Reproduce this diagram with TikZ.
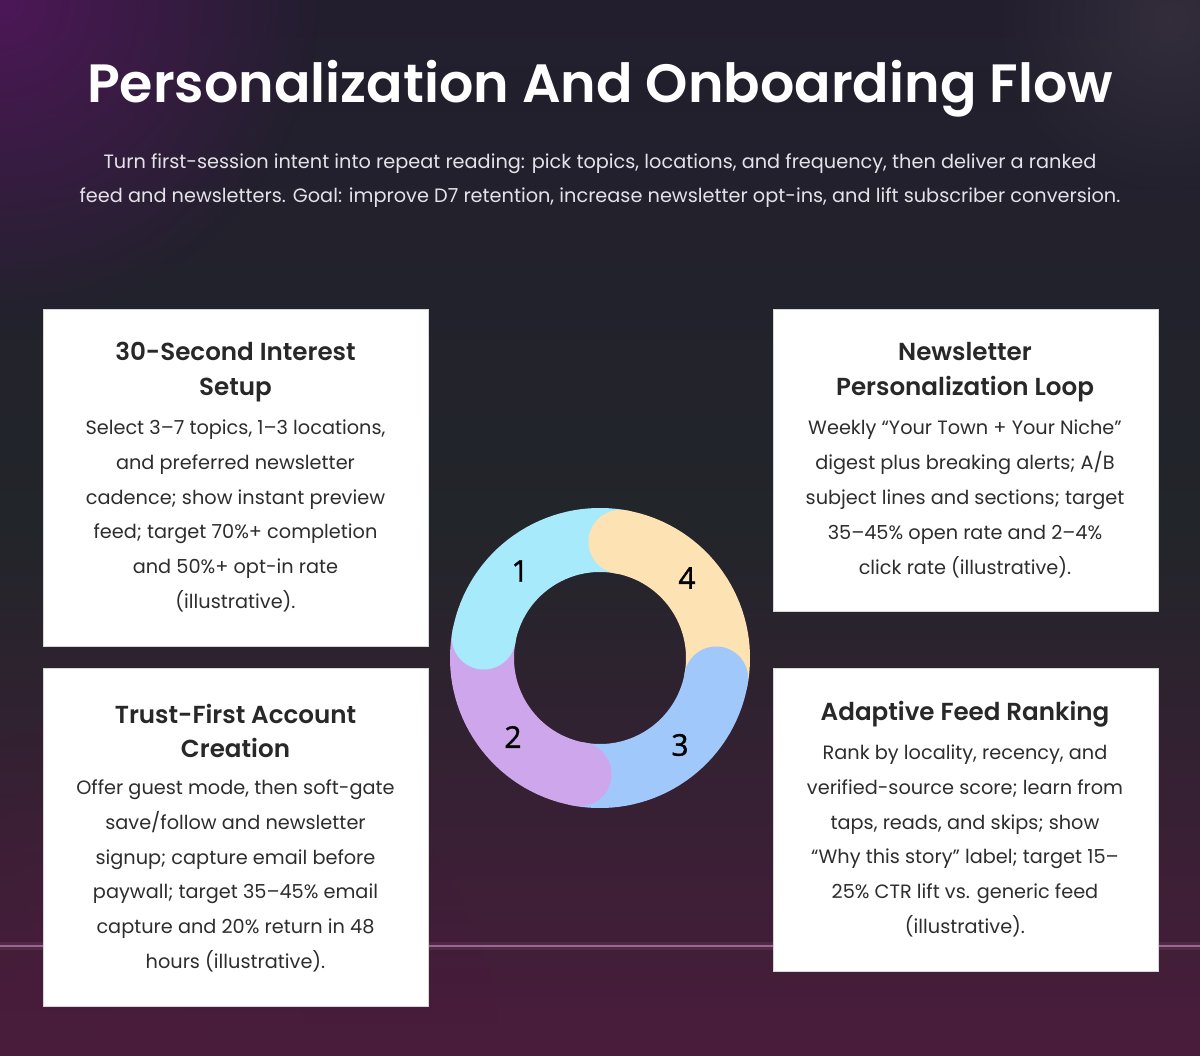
\documentclass[tikz,border=0pt]{standalone}
\usepackage{fontspec}
\setmainfont{Poppins}
\newfontfamily\semib{Poppins SemiBold}
\newfontfamily\numfont[FakeBold=1.2]{Open Sans}
\usetikzlibrary{fadings}
\tikzfading[name=softglow, inner color=transparent!0, outer color=transparent!100]
\definecolor{bgtop}{RGB}{34,30,46}
\definecolor{bgmid}{RGB}{34,37,42}
\definecolor{bgbot}{RGB}{74,28,60}
\definecolor{glowp}{RGB}{88,22,98}
\definecolor{glowr}{RGB}{90,80,90}
\definecolor{linec}{RGB}{165,115,155}
\definecolor{subc}{RGB}{228,228,232}
\definecolor{titc}{RGB}{40,40,40}
\definecolor{bodc}{RGB}{45,45,45}
\definecolor{segc}{RGB}{166,234,251}
\definecolor{segp}{RGB}{206,166,236}
\definecolor{segb}{RGB}{160,200,250}
\definecolor{sego}{RGB}{253,226,180}
\tikzset{
  card/.style={draw={rgb,255:red,215;green,215;blue,215}, line width=1, fill=white, anchor=north west, minimum width=385, minimum height=#1, inner sep=0},
  cardtitle/.style={align=center, text=titc, font=\semib\fontsize{24.6}{34.8}\selectfont, inner sep=0},
  cardbody/.style={align=center, text=bodc, font=\fontsize{19.3}{34.8}\selectfont, inner sep=0},
  seg/.style={line width=64, line cap=butt},
  num/.style={font=\numfont\fontsize{30}{30}\selectfont, text=black, inner sep=0}
}
\begin{document}
\begin{tikzpicture}[x=1pt,y=-1pt]
\useasboundingbox (0,0) rectangle (1200,1056);
% background
\shade[top color=bgtop, bottom color=bgbot, middle color=bgmid] (0,0) rectangle (1200,1056);
\fill[glowp, path fading=softglow, opacity=.8] (0,0) circle (320);
\fill[glowr, path fading=softglow, opacity=.3] (1170,20) circle (180);
\fill[bgbot, path fading=softglow, opacity=.6] (150,1056) circle (350);
\draw[linec, line width=8, opacity=.15] (0,946) -- (1200,946);
\draw[linec, line width=2.5, opacity=.85] (0,946) -- (1200,946);
% title
\node[text=white, font=\semib\fontsize{53.9}{60}\selectfont, inner sep=0] (title) at (600,89) {Personalization And Onboarding Flow};
\node[text=subc, font=\fontsize{19.3}{34}\selectfont, align=center, inner sep=0] (sub) at (600,181)
  {Turn first-session intent into repeat reading: pick topics, locations, and frequency, then deliver a ranked\\
   feed and newsletters. Goal: improve D7 retention, increase newsletter opt-ins, and lift subscriber conversion.};
% cards
\node[card=337] (c1) at (43,309) {};
\node[card=338] (c2) at (43,668) {};
\node[card=302] (c4) at (773,309) {};
\node[card=303] (c3) at (773,668) {};
\node[cardtitle] (t1) at (235.5,372) {30-Second Interest\\Setup};
\node[cardbody] (b1) at (235.5,516) {Select 3–7 topics, 1–3 locations,\\and preferred newsletter\\cadence; show instant preview\\feed; target 70\%+ completion\\and 50\%+ opt-in rate\\(illustrative).};
\node[cardtitle] (t2) at (235.5,731) {Trust-First Account\\Creation};
\node[cardbody] (b2) at (235.5,876) {Offer guest mode, then soft-gate\\save/follow and newsletter\\signup; capture email before\\paywall; target 35–45\% email\\capture and 20\% return in 48\\hours (illustrative).};
\node[cardtitle] (t4) at (965,372) {Newsletter\\Personalization Loop};
\node[cardbody] (b4) at (965,499) {Weekly “Your Town + Your Niche”\\digest plus breaking alerts; A/B\\subject lines and sections; target\\35–45\% open rate and 2–4\%\\click rate (illustrative).};
\node[cardtitle] (t3) at (965,714) {Adaptive Feed Ranking};
\node[cardbody] (b3) at (965,841) {Rank by locality, recency, and\\verified-source score; learn from\\taps, reads, and skips; show\\“Why this story” label; target 15–\\25\% CTR lift vs. generic feed\\(illustrative).};
% ring
\begin{scope}[shift={(600,658)}, y=1pt]
  \draw[seg, segc] (80:118) arc[start angle=80, end angle=170, radius=118];
  \draw[seg, segp] (170:118) arc[start angle=170, end angle=260, radius=118];
  \draw[seg, segb] (260:118) arc[start angle=260, end angle=350, radius=118];
  \draw[seg, sego] (-10:118) arc[start angle=-10, end angle=80, radius=118];
  \fill[segc] (170:118) circle (32);
  \fill[segp] (260:118) circle (32);
  \fill[segb] (350:118) circle (32);
  \fill[sego] (80:118) circle (32);
  \node[num] (n1) at (-80,87) {1};
  \node[num] (n4) at (87,80) {4};
  \node[num] (n2) at (-87,-79) {2};
  \node[num] (n3) at (80,-87) {3};
\end{scope}
\end{tikzpicture}
\end{document}
